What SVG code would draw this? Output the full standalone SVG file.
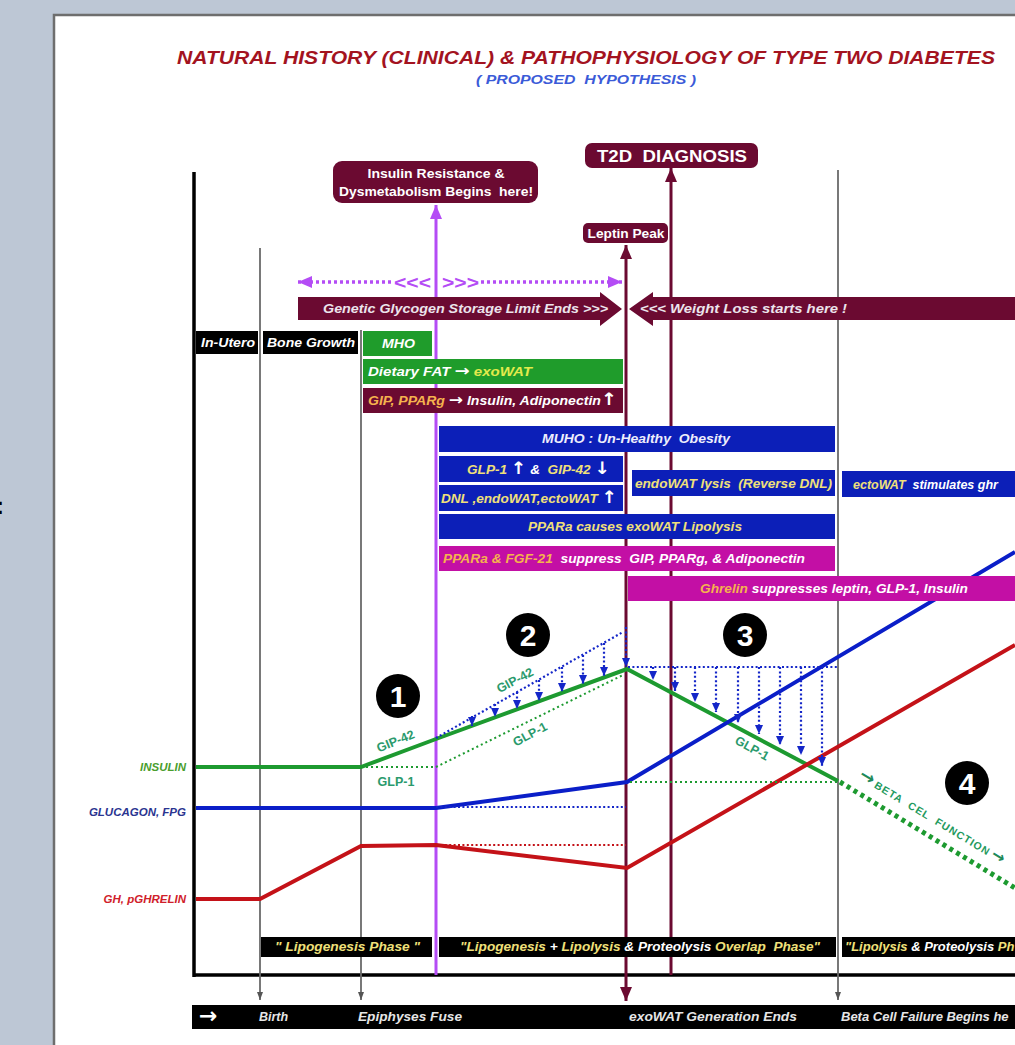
<svg xmlns="http://www.w3.org/2000/svg" width="1015" height="1045" viewBox="0 0 1015 1045">
<style>
.bi{font-family:"Liberation Sans",Arial,sans-serif;font-weight:bold;font-style:italic}
.b{font-family:"Liberation Sans",Arial,sans-serif;font-weight:bold}
.ar{font-family:"DejaVu Sans",sans-serif;font-weight:bold;font-style:normal}
.w{fill:#ffffff}
.y{fill:#f0e07a}
.o{fill:#f5b24e}
.lbl{font-size:12.5px}
.mar{fill:#6b0a31}
.blu{fill:#0c1fb8}
.grn{fill:#1f9c2b}
.mag{fill:#c30fa5}
.blk{fill:#000000}
.gv{stroke:#6a6a6a;stroke-width:1.8;fill:none}
.dotb{stroke:#1426c8;stroke-width:2.2;stroke-dasharray:2 2.4;fill:none}
.glab{fill:#2a9a6c;font-size:12.5px}
</style>
<defs>
<marker id="hp" viewBox="0 0 14 12" refX="14" refY="6" markerWidth="14" markerHeight="12" markerUnits="userSpaceOnUse" orient="auto-start-reverse"><path d="M0,0 L14,6 L0,12 z" fill="#b44cf5"/></marker>
<marker id="hm" viewBox="0 0 14 12" refX="14" refY="6" markerWidth="14" markerHeight="12" markerUnits="userSpaceOnUse" orient="auto-start-reverse"><path d="M0,0 L14,6 L0,12 z" fill="#6b0a31"/></marker>
<marker id="hg" viewBox="0 0 8 6" refX="8" refY="3" markerWidth="8" markerHeight="6" markerUnits="userSpaceOnUse" orient="auto-start-reverse"><path d="M0,0 L8,3 L0,6 z" fill="#555555"/></marker>
<marker id="hb" viewBox="0 0 9 8" refX="9" refY="4" markerWidth="9" markerHeight="8" markerUnits="userSpaceOnUse" orient="auto"><path d="M0,0 L9,4 L0,8 z" fill="#1426c8"/></marker>
</defs>

<!-- background & panel -->
<rect x="0" y="0" width="1015" height="1045" fill="#bdc7d5"/>
<rect x="54" y="15" width="970" height="1040" fill="#ffffff" stroke="#6e6e6e" stroke-width="2.5"/>
<text x="-4" y="514" class="b" font-size="24" fill="#000">:</text>

<!-- title -->
<text x="586" y="64" class="bi" font-size="19" fill="#a3131f" text-anchor="middle" textLength="818" lengthAdjust="spacingAndGlyphs">NATURAL HISTORY (CLINICAL) &amp; PATHOPHYSIOLOGY OF TYPE TWO DIABETES</text>
<text x="586" y="84" class="bi" font-size="13" fill="#3b5bd8" text-anchor="middle" textLength="220" lengthAdjust="spacingAndGlyphs" xml:space="preserve">( PROPOSED  HYPOTHESIS )</text>

<!-- connectors / timeline lines -->
<g id="connectors">
  <line x1="194" y1="172" x2="194" y2="977" stroke="#000" stroke-width="3.5"/>
  <line x1="193" y1="975" x2="1015" y2="975" stroke="#000" stroke-width="3.5"/>
  <line x1="260" y1="248" x2="260" y2="1000" class="gv" marker-end="url(#hg)"/>
  <line x1="361" y1="330" x2="361" y2="1000" class="gv" marker-end="url(#hg)"/>
  <line x1="838" y1="170" x2="838" y2="1000" class="gv" marker-end="url(#hg)"/>
  <line x1="436" y1="975" x2="436" y2="205" stroke="#b44cf5" stroke-width="3" marker-end="url(#hp)"/>
  <line x1="626" y1="245" x2="626" y2="1001" stroke="#6b0a31" stroke-width="3" marker-start="url(#hm)" marker-end="url(#hm)"/>
  <line x1="671" y1="975" x2="671" y2="168" stroke="#6b0a31" stroke-width="3" marker-end="url(#hm)"/>
  <!-- purple dotted double arrow -->
  <line x1="298" y1="282" x2="391" y2="282" stroke="#b44cf5" stroke-width="3.5" stroke-dasharray="3 3" marker-start="url(#hp)"/>
  <line x1="481" y1="282" x2="622" y2="282" stroke="#b44cf5" stroke-width="3.5" stroke-dasharray="3 3" marker-end="url(#hp)"/>
</g>
<text x="431" y="289" class="b" font-size="19" fill="#b44cf5" text-anchor="end" textLength="37" lengthAdjust="spacingAndGlyphs">&lt;&lt;&lt;</text>
<text x="442" y="289" class="b" font-size="19" fill="#b44cf5" textLength="37" lengthAdjust="spacingAndGlyphs">&gt;&gt;&gt;</text>

<!-- chart (drawn beneath the boxes) -->
<g id="chart-lines">
  <polyline points="196,767 361,767 436,739 627,669 838,781" fill="none" stroke="#1d9a30" stroke-width="4"/>
  <polyline points="196,808 436,808 627,782 1015,552" fill="none" stroke="#0a1ec8" stroke-width="4"/>
  <polyline points="196,899 260,899 361,846 436,845 627,868 1015,645" fill="none" stroke="#c41218" stroke-width="4"/>
  <polyline points="361,767 436,767 623,675" fill="none" stroke="#1d9a30" stroke-width="2" stroke-dasharray="2 3"/>
  <line x1="630" y1="782" x2="838" y2="782" stroke="#1d9a30" stroke-width="2" stroke-dasharray="2 3"/>
  <line x1="436" y1="738" x2="623" y2="632" class="dotb"/>
  <line x1="628" y1="667" x2="838" y2="667" class="dotb"/>
  <line x1="436" y1="807" x2="626" y2="807" class="dotb"/>
  <line x1="436" y1="845" x2="626" y2="845" stroke="#c41218" stroke-width="2" stroke-dasharray="2 2.4"/>
  <line x1="840" y1="782" x2="1015" y2="888" stroke="#1d9a30" stroke-width="5" stroke-dasharray="4 4"/>
</g>
<g id="suppression-arrows">
  <line x1="472" y1="716" x2="472" y2="726" class="dotb" marker-end="url(#hb)"/>
  <line x1="495" y1="704" x2="495" y2="717" class="dotb" marker-end="url(#hb)"/>
  <line x1="517" y1="692" x2="517" y2="709" class="dotb" marker-end="url(#hb)"/>
  <line x1="539" y1="680" x2="539" y2="701" class="dotb" marker-end="url(#hb)"/>
  <line x1="562" y1="667" x2="562" y2="692" class="dotb" marker-end="url(#hb)"/>
  <line x1="583" y1="655" x2="583" y2="684" class="dotb" marker-end="url(#hb)"/>
  <line x1="604" y1="643" x2="604" y2="676" class="dotb" marker-end="url(#hb)"/>
  <line x1="626" y1="627" x2="626" y2="667" class="dotb" marker-end="url(#hb)"/>
  <line x1="653" y1="667" x2="653" y2="680" class="dotb" marker-end="url(#hb)"/>
  <line x1="675" y1="667" x2="675" y2="691" class="dotb" marker-end="url(#hb)"/>
  <line x1="695" y1="667" x2="695" y2="702" class="dotb" marker-end="url(#hb)"/>
  <line x1="716" y1="667" x2="716" y2="712" class="dotb" marker-end="url(#hb)"/>
  <line x1="738" y1="667" x2="738" y2="723" class="dotb" marker-end="url(#hb)"/>
  <line x1="759" y1="667" x2="759" y2="734" class="dotb" marker-end="url(#hb)"/>
  <line x1="780" y1="667" x2="780" y2="745" class="dotb" marker-end="url(#hb)"/>
  <line x1="801" y1="667" x2="801" y2="755" class="dotb" marker-end="url(#hb)"/>
  <line x1="822" y1="667" x2="822" y2="766" class="dotb" marker-end="url(#hb)"/>
</g>

<!-- top callouts -->
<g id="insulin-resistance">
  <rect x="333" y="161" width="205" height="42" rx="9" class="mar"/>
  <text x="436" y="178" class="b w" font-size="13" text-anchor="middle" textLength="137" lengthAdjust="spacingAndGlyphs">Insulin Resistance &amp;</text>
  <text x="436" y="196" class="b w" font-size="13" text-anchor="middle" textLength="194" lengthAdjust="spacingAndGlyphs" xml:space="preserve">Dysmetabolism Begins  here!</text>
</g>
<g id="t2d-diagnosis">
  <rect x="585" y="143" width="173" height="25" rx="7" class="mar"/>
  <text x="672" y="162" class="b w" font-size="16" text-anchor="middle" textLength="150" lengthAdjust="spacingAndGlyphs" xml:space="preserve">T2D  DIAGNOSIS</text>
</g>
<g id="leptin-peak">
  <rect x="583" y="223" width="85" height="20" rx="5" class="mar"/>
  <text x="626" y="238" class="b w" font-size="12.5" text-anchor="middle" textLength="77" lengthAdjust="spacingAndGlyphs">Leptin Peak</text>
</g>

<!-- big arrows -->
<g id="glycogen-limit">
  <polygon points="298,297 600,297 600,292 622,309 600,326 600,320 298,320" class="mar"/>
  <text x="323" y="313" class="bi lbl" fill="#ece4ec" textLength="285" lengthAdjust="spacingAndGlyphs">Genetic Glycogen Storage Limit Ends &gt;&gt;&gt;</text>
</g>
<g id="weight-loss">
  <polygon points="629,309 653,292 653,297 1015,297 1015,320 653,320 653,326" class="mar"/>
  <text x="640" y="313" class="bi lbl" fill="#ece4ec" textLength="207" lengthAdjust="spacingAndGlyphs">&lt;&lt;&lt; Weight Loss starts here !</text>
</g>

<!-- phase boxes -->
<g id="in-utero"><rect x="196" y="331" width="62" height="23" class="blk"/><text x="201" y="347" class="bi lbl w" textLength="54" lengthAdjust="spacingAndGlyphs">In-Utero</text></g>
<g id="bone-growth"><rect x="263" y="331" width="95" height="23" class="blk"/><text x="267" y="347" class="bi lbl w" textLength="88" lengthAdjust="spacingAndGlyphs">Bone Growth</text></g>
<g id="mho"><rect x="363" y="331" width="69" height="25" class="grn"/><text x="382" y="348" class="bi lbl w" textLength="33" lengthAdjust="spacingAndGlyphs">MHO</text></g>
<g id="dietary-fat"><rect x="363" y="359" width="260" height="25" class="grn"/><text x="368" y="376" class="bi lbl w" textLength="164" lengthAdjust="spacingAndGlyphs">Dietary FAT <tspan class="ar" font-size="15">→</tspan> <tspan fill="#e2ea4c">exoWAT</tspan></text></g>
<g id="gip-pparg"><rect x="363" y="388" width="260" height="25" class="mar"/><text x="368" y="405" class="bi lbl w" textLength="249" lengthAdjust="spacingAndGlyphs"><tspan class="o">GIP, PPARg</tspan> <tspan class="ar" font-size="15">→</tspan> Insulin, Adiponectin<tspan class="ar" font-size="17">↑</tspan></text></g>
<g id="muho"><rect x="439" y="426" width="396" height="26" class="blu"/><text x="636" y="443" class="bi lbl" fill="#eeeefc" text-anchor="middle" textLength="188" lengthAdjust="spacingAndGlyphs" xml:space="preserve">MUHO : Un-Healthy  Obesity</text></g>
<g id="glp1-gip42"><rect x="439" y="456" width="184" height="26" class="blu"/><text x="467" y="474" class="bi lbl y" textLength="143" lengthAdjust="spacingAndGlyphs" xml:space="preserve">GLP-1 <tspan class="ar w" font-size="17">↑</tspan> <tspan class="w">&amp;</tspan>  GIP-42 <tspan class="ar w" font-size="17">↓</tspan></text></g>
<g id="dnl"><rect x="439" y="485" width="184" height="26" class="blu"/><text x="441" y="503" class="bi lbl y" textLength="176" lengthAdjust="spacingAndGlyphs">DNL ,endoWAT,ectoWAT <tspan class="ar w" font-size="17">↑</tspan></text></g>
<g id="endowat-lysis"><rect x="632" y="470" width="203" height="26" class="blu"/><text x="635" y="488" class="bi lbl y" textLength="197" lengthAdjust="spacingAndGlyphs" xml:space="preserve">endoWAT lysis  (Reverse DNL)</text></g>
<g id="ectowat"><rect x="842" y="471" width="180" height="26" class="blu"/><text x="853" y="489" class="bi lbl w" font-size="13" xml:space="preserve"><tspan class="y">ectoWAT</tspan>  stimulates ghr</text></g>
<g id="ppara-lipolysis"><rect x="439" y="514" width="396" height="25" class="blu"/><text x="528" y="531" class="bi lbl y" textLength="214" lengthAdjust="spacingAndGlyphs">PPARa causes exoWAT Lipolysis</text></g>
<g id="ppara-fgf21"><rect x="439" y="546" width="396" height="25" class="mag"/><text x="443" y="563" class="bi lbl w" textLength="362" lengthAdjust="spacingAndGlyphs" xml:space="preserve"><tspan class="o">PPARa &amp; FGF-21</tspan>  suppress  GIP, PPARg, &amp; Adiponectin</text></g>
<g id="ghrelin"><rect x="628" y="576" width="392" height="25" class="mag"/><text x="700" y="593" class="bi lbl w" textLength="268" lengthAdjust="spacingAndGlyphs"><tspan class="o">Ghrelin</tspan> suppresses leptin, GLP-1, Insulin</text></g>

<!-- axis labels -->
<text x="186" y="771" class="bi" font-size="11.5" fill="#4a9e2e" text-anchor="end">INSULIN</text>
<text x="186" y="816" class="bi" font-size="11.5" fill="#2a3490" text-anchor="end">GLUCAGON, FPG</text>
<text x="186" y="903" class="bi" font-size="11.5" fill="#d0202a" text-anchor="end">GH, pGHRELIN</text>

<!-- line labels -->
<text transform="translate(397,745) rotate(-22)" class="b glab" text-anchor="middle">GIP-42</text>
<text x="396" y="786" class="b glab" text-anchor="middle">GLP-1</text>
<text transform="translate(517,684) rotate(-28)" class="b glab" text-anchor="middle">GIP-42</text>
<text transform="translate(532,738) rotate(-28)" class="b glab" text-anchor="middle">GLP-1</text>
<text transform="translate(750,752) rotate(29)" class="b glab" text-anchor="middle">GLP-1</text>
<text transform="translate(858,778) rotate(31)" class="b" font-size="10.5" fill="#1f9a5e" xml:space="preserve"><tspan class="ar" font-size="18" fill="#1f8a5a">→</tspan> <tspan letter-spacing="1">BETA  CEL  FUNCTION</tspan> <tspan class="ar" font-size="16" fill="#1f8a5a">→</tspan></text>

<!-- numbered markers -->
<g id="n1"><circle cx="398" cy="696" r="22" fill="#000"/><text x="398" y="707" class="b w" font-size="30" text-anchor="middle">1</text></g>
<g id="n2"><circle cx="528" cy="635" r="22" fill="#000"/><text x="528" y="646" class="b w" font-size="30" text-anchor="middle">2</text></g>
<g id="n3"><circle cx="745" cy="635" r="22" fill="#000"/><text x="745" y="646" class="b w" font-size="30" text-anchor="middle">3</text></g>
<g id="n4"><circle cx="967" cy="783" r="22" fill="#000"/><text x="967" y="794" class="b w" font-size="30" text-anchor="middle">4</text></g>

<!-- bottom phases -->
<g id="phase-lipogenesis"><rect x="261" y="937" width="171" height="20" class="blk"/><text x="275" y="951" class="bi lbl y" textLength="145" lengthAdjust="spacingAndGlyphs" xml:space="preserve">" Lipogenesis Phase "</text></g>
<g id="phase-overlap"><rect x="439" y="937" width="397" height="20" class="blk"/><text x="460" y="951" class="bi lbl y" textLength="360" lengthAdjust="spacingAndGlyphs" xml:space="preserve">"Lipogenesis <tspan class="w">+</tspan> Lipolysis <tspan class="w">&amp; Proteolysis</tspan> Overlap  Phase"</text></g>
<g id="phase-lipolysis"><rect x="842" y="937" width="180" height="20" class="blk"/><text x="845" y="951" class="bi y" font-size="13" xml:space="preserve">"Lipolysis <tspan class="w">&amp; Proteolysis</tspan> Ph</text></g>

<!-- bottom timeline bar -->
<g id="timeline-bar">
  <rect x="192" y="1005" width="830" height="24" class="blk"/>
  <text x="199" y="1023" class="ar w" font-size="22">→</text>
  <text x="259" y="1021" class="bi lbl" fill="#e6e6e6">Birth</text>
  <text x="358" y="1021" class="bi lbl" fill="#e6e6e6" textLength="104" lengthAdjust="spacingAndGlyphs">Epiphyses Fuse</text>
  <text x="629" y="1021" class="bi lbl" fill="#e6e6e6" textLength="168" lengthAdjust="spacingAndGlyphs">exoWAT Generation Ends</text>
  <text x="841" y="1021" class="bi" font-size="13" fill="#e6e6e6">Beta Cell Failure Begins he</text>
</g>
</svg>
